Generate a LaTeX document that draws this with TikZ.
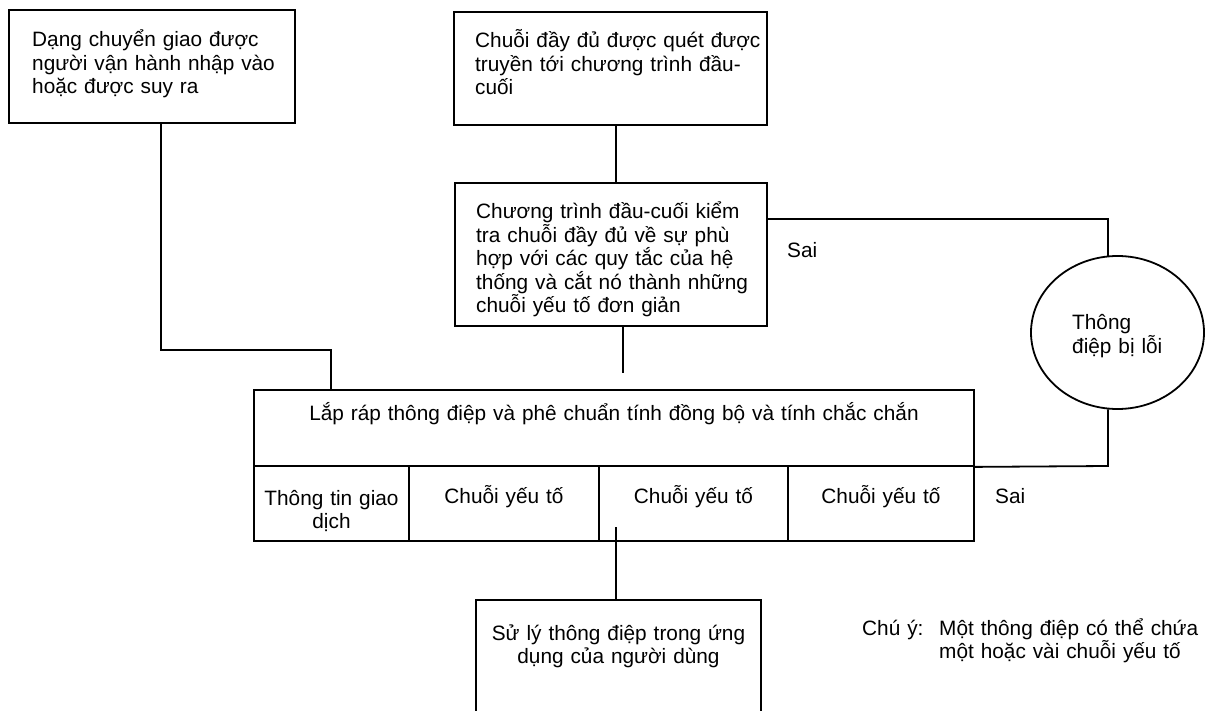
\documentclass[tikz,border=0pt]{standalone}
\usepackage{fontspec}
\setmainfont{Liberation Sans}
\usetikzlibrary{shapes.geometric,calc}
\begin{document}
\begin{tikzpicture}[x=1pt,y=-1pt,
  box/.style={draw,line width=1.8pt,rectangle,inner sep=0pt},
  txt/.style={inner sep=0pt,text width=#1,align=left,anchor=base west,font=\fontsize{20.8}{23.4}\selectfont},
  ctxt/.style={inner sep=0pt,text width=#1,align=center,anchor=base,font=\fontsize{20.8}{23.4}\selectfont},
  link/.style={line width=1.8pt}]
\clip (0,0) rectangle (1210,711);
\fill[white] (0,0) rectangle (1210,711);
% boxes
\node[box,minimum width=286pt,minimum height=113pt] (b1) at (152,66.5) {};
\node[box,minimum width=313pt,minimum height=113pt] (b2) at (610.5,68.5) {};
\node[box,minimum width=312pt,minimum height=143pt] (b3) at (611,254.5) {};
\node[box,minimum width=720pt,minimum height=76pt] (big) at (614,428) {};
\node[box,minimum width=155pt,minimum height=75pt] (c1) at (331.5,503.5) {};
\node[box,minimum width=190pt,minimum height=75pt] (c2) at (504,503.5) {};
\node[box,minimum width=189pt,minimum height=75pt] (c3) at (693.5,503.5) {};
\node[box,minimum width=186pt,minimum height=75pt] (c4) at (881,503.5) {};
\node[box,minimum width=285pt,minimum height=140pt] (b5) at (618.5,670) {};
\node[draw,line width=1.8pt,ellipse,inner sep=0pt,minimum width=173pt,minimum height=153pt] (err) at (1117.5,332.5) {};
% texts
\node[txt=280pt] (t1) at (32,47) {Dạng chuyển giao được\\người vận hành nhập vào\\hoặc được suy ra};
\node[txt=300pt] (t2) at (475,48) {Chuỗi đầy đủ được quét được\\truyền tới chương trình đầu-\\cuối};
\node[txt=300pt] (t3) at (476,219) {Chương trình đầu-cuối kiểm\\tra chuỗi đầy đủ về sự phù\\hợp với các quy tắc của hệ\\thống và cắt nó thành những\\chuỗi yếu tố đơn giản};
\node[ctxt=710pt] (tbig) at (614,420) {Lắp ráp thông điệp và phê chuẩn tính đồng bộ và tính chắc chắn};
\node[ctxt=152pt] (tc1) at (331.5,505) {Thông tin giao\\dịch};
\node[ctxt=185pt] (tc2) at (504,503) {Chuỗi yếu tố};
\node[ctxt=185pt] (tc3) at (693.5,503) {Chuỗi yếu tố};
\node[ctxt=180pt] (tc4) at (881,503) {Chuỗi yếu tố};
\node[ctxt=280pt] (t5) at (618.5,640) {Sử lý thông điệp trong ứng\\dụng của người dùng};
\node[txt=125pt] (terr) at (1072,330) {Thông\\điệp bị lỗi};
\node[txt=60pt] (sai1) at (787,258) {Sai};
\node[txt=60pt] (sai2) at (995,503) {Sai};
\node[txt=80pt] (note1) at (862,635) {Chú ý:};
\node[txt=270pt] (note2) at (939,635) {Một thông điệp có thể chứa\\một hoặc vài chuỗi yếu tố};
% connectors
\coordinate (k1) at (161,350);
\coordinate (k2) at (331,350);
\draw[link] (b1.south -| k1) -- (k1) -- (k2) -- (big.north -| k2);
\coordinate (k3) at (616,150);
\draw[link] (b2.south -| k3) -- (b3.north -| k3);
\coordinate (k4) at (623,373);
\draw[link] (b3.south -| k4) -- (k4);
\coordinate (k5) at (1108,219);
\draw[link] (b3.east |- k5) -- (k5) -- ($(err.north -| k5)+(0,0.5)$);
\coordinate (k6) at (1108,466);
\draw[link] ($(err.south -| k6)+(0,-0.5)$) -- (k6) -- (big.south east);
\coordinate (k7) at (616,527);
\draw[link] (k7) -- (b5.north -| k7);
\end{tikzpicture}
\end{document}
